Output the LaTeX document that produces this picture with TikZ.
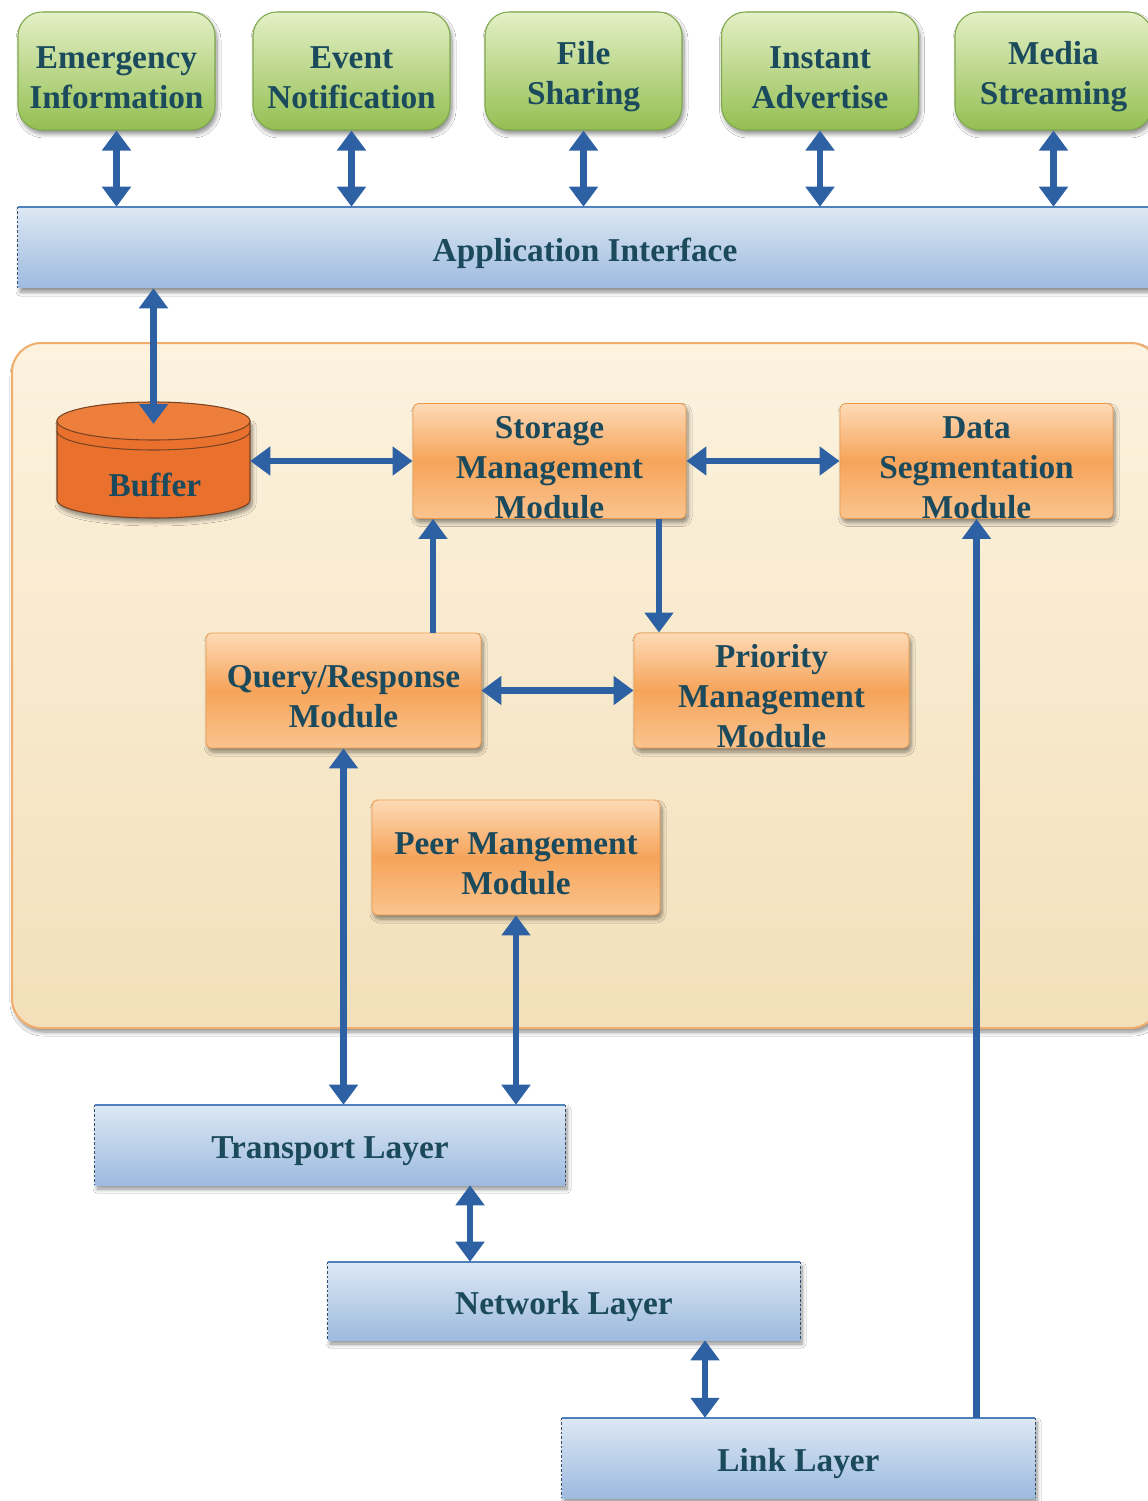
\documentclass[tikz,border=0pt]{standalone}
\usepackage{fontspec}
\setmainfont{Liberation Serif}
\usetikzlibrary{arrows.meta,calc,shadows.blur}
\definecolor{arrc}{HTML}{2E61A3}
\definecolor{txtc}{HTML}{1A4A5C}
\definecolor{gtop}{HTML}{E4F0C6}
\definecolor{gbot}{HTML}{94BF52}
\definecolor{gdraw}{HTML}{7FA84A}
\definecolor{btop}{HTML}{DDE8F4}
\definecolor{bbot}{HTML}{9DBADF}
\definecolor{bline}{HTML}{4F81BD}
\definecolor{otop}{HTML}{FDDAB6}
\definecolor{omid}{HTML}{F6A45A}
\definecolor{obot}{HTML}{FAC48F}
\definecolor{odraw}{HTML}{EE9A4C}
\definecolor{ctop}{HTML}{FCF2DE}
\definecolor{cbot}{HTML}{F3E0BA}
\definecolor{cdraw}{HTML}{F0AD6B}
\definecolor{bufc}{HTML}{EA712D}
\definecolor{buftopc}{HTML}{EE7E3C}
\definecolor{bufd}{HTML}{7A4424}
\newcommand{\tup}{\rule{0pt}{26pt}}
\tikzset{
 lbl/.style={font=\bfseries\fontsize{25}{30}\selectfont, text=txtc, align=center, inner sep=0pt},
 shad/.style={blur shadow={shadow xshift=1.5pt, shadow yshift=-3pt, shadow blur radius=3pt, shadow blur steps=6, shadow opacity=45}},
 appbox/.style={lbl, shad, rounded corners=18pt, draw=gdraw, line width=0.8pt, top color=gtop, bottom color=gbot, minimum width=147.75pt, minimum height=88.5pt},
 modbox/.style={lbl, shad, rounded corners=4pt, draw=odraw, line width=0.6pt, top color=otop, bottom color=obot, middle color=omid},
 layerbox/.style={lbl, shad, top color=btop, bottom color=bbot},
 bartop/.style={draw=bline, line width=1.2pt},
 barside/.style={draw=bline!60!black, line width=0.8pt, dash pattern=on 2pt off 1.5pt},
 uni/.style={draw=arrc, line width=5pt, -{Triangle[width=21pt,length=15pt]}},
 bi/.style={draw=arrc, line width=5pt, {Triangle[width=21pt,length=15pt]}-{Triangle[width=21pt,length=15pt]}},
}
\begin{document}
\begin{tikzpicture}[x=0.75pt,y=-0.75pt]
\useasboundingbox (0,0) rectangle (1148,1501);
\clip (0,0) rectangle (1148,1501);
\fill[white] (0,0) rectangle (1148,1501);

% top application boxes
\node[appbox] (em) at (116.5,71) {\tup Emergency\\Information};
\node[appbox] (ev) at (351.5,71) {\tup Event\\Notification};
\node[appbox] (fs) at (583.5,71) {\tup File\\Sharing};
\node[appbox] (ia) at (820,71) {\tup Instant\\Advertise};
\node[appbox] (ms) at (1053.5,71) {\tup Media\\Streaming};

% application interface
\node[layerbox, minimum width=850.5pt, minimum height=60.75pt] (api) at (585,247.5) {\tup Application Interface};
\draw[bartop] (api.north west) -- (api.north east);
\draw[barside] (api.north west) -- (api.south west) (api.north east) -- (api.south east);

% core container
\node[shad, rounded corners=22pt, draw=cdraw, line width=1.5pt, top color=ctop, bottom color=cbot, minimum width=861pt, minimum height=513.75pt] (core) at (586,685.5) {};

% buffer cylinder
\path[shad, fill=bufc, draw=bufd, line width=0.8pt] (57,421) -- (57,500) arc[start angle=180, end angle=360, x radius=72.375pt, y radius=13.5pt] -- (250,421) -- cycle;
\draw[bufd, line width=0.8pt, fill=buftopc] (153.5,421) ellipse [x radius=72.375pt, y radius=14.25pt];
\draw[bufd, line width=0.8pt] (57,431) arc[start angle=180, end angle=360, x radius=72.375pt, y radius=14.25pt];
\node[inner sep=0pt, minimum width=144.75pt, minimum height=87pt] (buf) at (153.5,460) {};
\node[lbl] (buflbl) at (155,485) {Buffer};
\coordinate (buftop) at (153.5,424);

% modules
\node[modbox, minimum width=204.75pt, minimum height=85.5pt] (sm) at (549.5,461) {\tup Storage\\Management\\Module};
\node[modbox, minimum width=204.75pt, minimum height=85.5pt] (ds) at (976.5,461) {\tup Data\\Segmentation\\Module};
\node[modbox, minimum width=206.25pt, minimum height=86.25pt] (qr) at (343.5,690.5) {\tup Query/Response\\Module};
\node[modbox, minimum width=206.25pt, minimum height=86.25pt] (pm) at (771.5,690.5) {\tup Priority\\Management\\Module};
\node[modbox, minimum width=216pt, minimum height=86.25pt] (peer) at (516,857.5) {\tup Peer Mangement\\Module};

% lower layers
\node[layerbox, minimum width=352.5pt, minimum height=60pt] (tl) at (330,1145) {\tup Transport Layer};
\node[layerbox, minimum width=354pt, minimum height=58.5pt] (nl) at (564,1301) {\tup Network Layer};
\node[layerbox, minimum width=354.75pt, minimum height=60pt] (ll) at (798.5,1458) {\tup Link Layer};
\foreach \b in {tl,nl,ll}{
  \draw[bartop] (\b.north west) -- (\b.north east);
  \draw[barside] (\b.north west) -- (\b.south west) (\b.north east) -- (\b.south east);
}

% connectors
\foreach \a in {em,ev,fs,ia,ms}{
  \draw[bi] (\a.south) -- (\a.south |- api.north);
}
\draw[bi] (api.south -| buftop) -- (buftop);
\draw[bi] (buf.east |- sm.west) -- (sm.west);
\draw[bi] (sm.east) -- (ds.west);
\coordinate (xa) at (433,575);
\coordinate (xb) at (659,575);
\coordinate (xc) at (470,1220);
\coordinate (xd) at (705,1380);
\draw[uni] (qr.north -| xa) -- (sm.south -| xa);
\draw[uni] (sm.south -| xb) -- (pm.north -| xb);
\draw[bi] (qr.east) -- (pm.west);
\draw[bi] (qr.south) -- (qr.south |- tl.north);
\draw[bi] (peer.south) -- (peer.south |- tl.north);
\draw[bi] (tl.south -| xc) -- (nl.north -| xc);
\draw[bi] (nl.south -| xd) -- (ll.north -| xd);
\draw[uni] (ll.north -| ds.south) -- (ds.south);
\end{tikzpicture}
\end{document}
